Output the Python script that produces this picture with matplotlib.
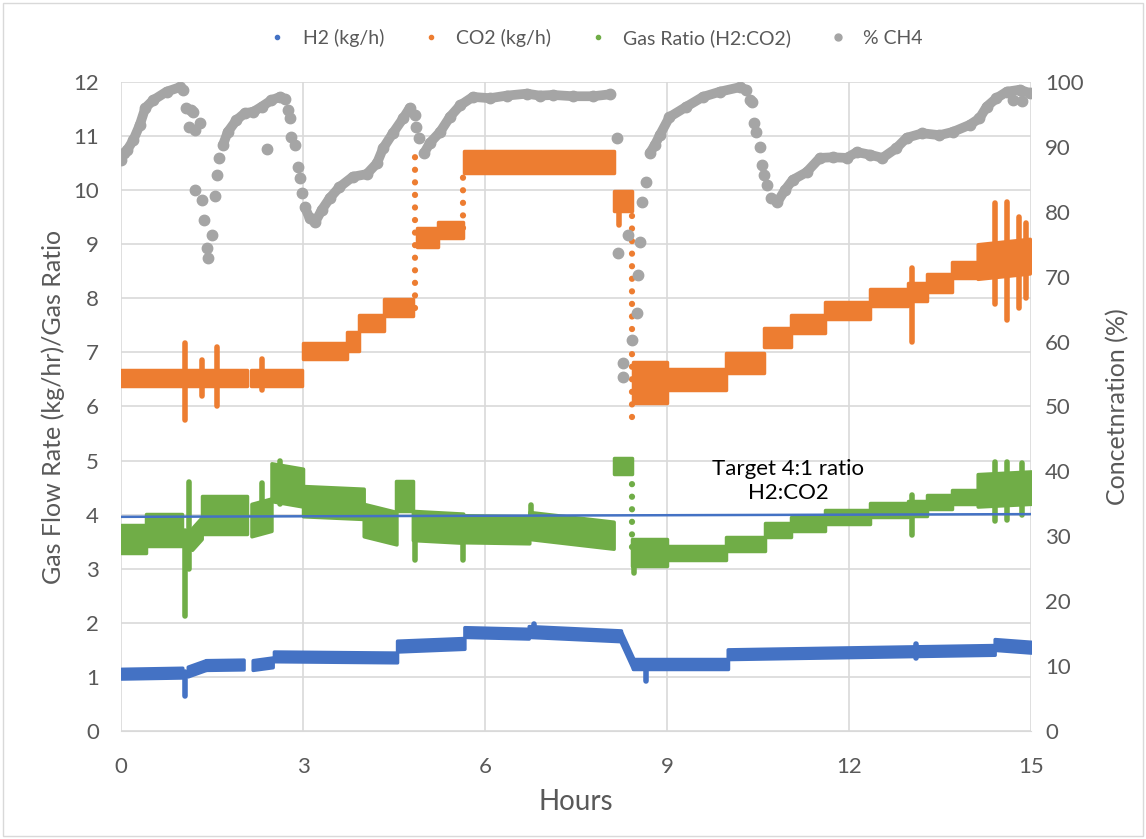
import numpy as np
import matplotlib
matplotlib.use("Agg")
import matplotlib.pyplot as plt
from matplotlib.lines import Line2D
from matplotlib.patches import Rectangle

plt.rcParams["font.family"] = ["Lato", "DejaVu Sans"]

BLUE = "#4472C4"
ORANGE = "#ED7D31"
GREEN = "#70AD47"
GRAY = "#A5A5A5"
TXT = "#595959"

# segments: (t_start, t_end, value_start, value_end, half band width)
h2_segments = [
    (0.0, 1.01, 1.06, 1.08, 0.09), (1.10, 1.40, 1.10, 1.22, 0.09),
    (1.40, 2.02, 1.22, 1.23, 0.09), (2.17, 2.50, 1.22, 1.27, 0.09),
    (2.52, 4.55, 1.38, 1.36, 0.09), (4.55, 5.66, 1.57, 1.62, 0.10),
    (5.66, 6.72, 1.83, 1.80, 0.09), (6.72, 8.24, 1.84, 1.76, 0.10),
    (8.24, 8.44, 1.74, 1.25, 0.10), (8.44, 10.0, 1.24, 1.24, 0.10),
    (10.0, 14.4, 1.42, 1.50, 0.09), (14.4, 15.0, 1.60, 1.55, 0.10),
]
h2_spikes = [(1.06, 0.65, 1.10), (8.65, 0.92, 1.25), (6.80, 1.80, 1.97), (13.1, 1.35, 1.60)]

co2_segments = [
    (0.0, 2.07, 6.52, 6.52, 0.15), (2.15, 2.98, 6.52, 6.52, 0.15),
    (3.0, 3.72, 7.02, 7.02, 0.15), (3.72, 3.92, 7.20, 7.20, 0.17),
    (3.92, 4.33, 7.55, 7.55, 0.15), (4.33, 4.81, 7.83, 7.83, 0.15),
    (4.88, 5.22, 9.12, 9.12, 0.18), (5.22, 5.63, 9.27, 9.27, 0.15),
    (5.65, 8.12, 10.52, 10.52, 0.20), (8.12, 8.42, 9.80, 9.80, 0.18),
    (8.44, 9.0, 6.45, 6.45, 0.38), (9.0, 9.98, 6.50, 6.50, 0.19),
    (9.98, 10.60, 6.80, 6.80, 0.18), (10.60, 11.05, 7.28, 7.28, 0.18),
    (11.05, 11.60, 7.53, 7.53, 0.17), (11.60, 12.34, 7.77, 7.77, 0.16),
    (12.34, 12.97, 8.02, 8.02, 0.16), (12.97, 13.28, 8.12, 8.12, 0.17),
    (13.28, 13.69, 8.28, 8.28, 0.17), (13.69, 14.12, 8.52, 8.52, 0.15),
    (14.12, 14.98, 8.68, 8.78, 0.32),
]
co2_spikes = [(1.05, 5.75, 7.17), (1.33, 6.20, 6.86), (1.58, 6.00, 7.10), (2.32, 6.30, 6.88),
              (8.20, 9.36, 9.80), (13.03, 7.20, 8.56), (14.40, 7.90, 9.76), (14.60, 7.60, 9.78),
              (14.80, 7.82, 9.50), (14.92, 8.00, 9.40)]
co2_jumps = [(4.84, 7.83, 10.80), (5.63, 9.30, 10.45), (8.42, 5.80, 9.60)]

ratio_segments = [
    (0.0, 0.42, 3.55, 3.55, 0.25), (0.42, 1.0, 3.72, 3.72, 0.30),
    (1.17, 1.33, 3.55, 3.75, 0.20), (1.33, 2.07, 4.00, 4.00, 0.35),
    (2.15, 2.48, 3.90, 4.00, 0.30), (2.48, 3.0, 4.60, 4.50, 0.35),
    (3.0, 4.0, 4.25, 4.20, 0.28), (4.0, 4.54, 3.90, 3.75, 0.30),
    (4.54, 4.81, 4.35, 4.35, 0.28), (4.81, 5.64, 3.80, 3.75, 0.27),
    (5.64, 6.73, 3.74, 3.72, 0.25), (6.73, 8.12, 3.80, 3.62, 0.25),
    (8.12, 8.42, 4.90, 4.90, 0.15), (8.42, 9.0, 3.30, 3.30, 0.25),
    (9.0, 9.98, 3.30, 3.30, 0.13), (9.98, 10.61, 3.45, 3.45, 0.13),
    (10.61, 11.05, 3.71, 3.71, 0.13), (11.05, 11.60, 3.82, 3.82, 0.13),
    (11.60, 12.34, 3.95, 3.95, 0.13), (12.34, 12.97, 4.08, 4.08, 0.13),
    (12.97, 13.28, 4.12, 4.12, 0.14), (13.28, 13.69, 4.23, 4.23, 0.13),
    (13.69, 14.12, 4.33, 4.33, 0.13), (14.12, 15.0, 4.45, 4.50, 0.30),
]
ratio_spikes = [(1.05, 2.12, 3.70), (1.12, 3.00, 4.60), (2.32, 3.70, 4.58), (2.62, 4.20, 5.00),
                (4.85, 3.17, 3.90), (5.64, 3.17, 3.80), (6.75, 3.60, 4.18), (8.45, 2.92, 3.40),
                (13.03, 3.63, 4.37), (14.40, 3.88, 4.98), (14.60, 3.90, 4.98), (14.85, 4.00, 4.95)]
ratio_jumps = [(8.42, 3.40, 4.70)]

target_t = [0, 15]
target_v = [3.96, 4.01]

# % CH4, dense runs (NaN separates runs) and isolated points
ch4_t = [0.0, 0.05, 0.1, 0.2, 0.31, 0.4, 0.53, 0.75, 0.97, 1.02, np.nan,
         1.68, 1.76, 1.9, 2.04, 2.18, 2.32, 2.48, 2.62, 2.7, np.nan,
         3.03, 3.11, 3.2, 3.31, 3.44, 3.6, 3.82, 4.05, 4.22, 4.32, 4.48, 4.65, 4.76, np.nan,
         5.0, 5.09, 5.26, 5.42, 5.59, 5.8, 6.08, 6.36, 6.69, 6.9, 7.12, 7.45, 7.78, 8.06, np.nan,
         8.72, 8.8, 8.88, 9.04, 9.32, 9.59, 9.87, 10.2, 10.3, np.nan,
         10.72, 10.82, 10.94, 11.07, 11.3, 11.52, 11.73, 11.96, 12.13, 12.34, 12.55, 12.78,
         12.95, 13.21, 13.49, 13.71, 13.99, 14.15, 14.27, 14.43, 14.6, 14.81, 14.98]
ch4_v = [88, 89, 89.5, 91, 93.4, 96, 97.2, 98.5, 99.2, 98.8, np.nan,
         90.3, 92.3, 94.1, 95.2, 95.4, 96.2, 97.2, 97.7, 97.4, np.nan,
         80.7, 79, 78.4, 80.3, 82.1, 83.8, 85.4, 85.8, 87.5, 89.8, 92.1, 94.4, 96, np.nan,
         89.1, 90.6, 92.3, 94.6, 96.4, 97.7, 97.5, 97.9, 98.2, 97.9, 98.0, 97.8, 97.8, 98.1, np.nan,
         89.1, 90.3, 91.8, 94.6, 96.2, 97.7, 98.5, 99.2, 98.8, np.nan,
         82.1, 81.5, 83.3, 84.9, 86.1, 88.3, 88.4, 88.3, 89.2, 88.8, 88.3, 89.8,
         91.4, 92.1, 91.8, 92.3, 93.4, 94.4, 96.2, 97.5, 98.5, 98.8, 98.3]
ch4_pts_t = [1.07, 1.15, 1.19, 1.12, 1.22, 1.3, 1.22, 1.33, 1.37, 1.41, 1.43, 1.5, 1.55, 1.58, 1.62,
             2.4, 2.75, 2.78, 2.8, 2.87, 2.92, 2.95, 2.98, 4.84, 4.86, 4.91,
             8.17, 8.19, 8.35, 8.55, 8.52, 8.5, 8.42, 8.27, 8.27, 8.58, 8.66,
             10.36, 10.4, 10.44, 10.47, 10.53, 10.57, 10.59, 10.64, 14.7, 14.85]
ch4_pts_v = [96, 95.7, 95.4, 93, 92.6, 93.7, 83.4, 81.8, 78.7, 74.4, 72.9, 76.4, 82.4, 85.7, 88.3,
             89.7, 95.7, 94.4, 91.5, 90.3, 86.9, 85.2, 82.9, 94.9, 93.1, 91.4,
             91.4, 73.6, 76.4, 75.3, 70.3, 64.4, 60.2, 56.7, 54.5, 81.5, 84.6,
             97.2, 96.9, 93.7, 92.3, 90, 87.2, 85.7, 84.1, 97.2, 97.0]


def draw_band(ax, segs, spikes, jumps, color):
    for t0, t1, v0, v1, s in segs:
        ax.fill_between([t0, t1], [v0 - s, v1 - s], [v0 + s, v1 + s],
                        color=color, lw=2.5, edgecolor=color, joinstyle="round", zorder=3)
    for t, lo, hi in spikes:
        ax.plot([t, t], [lo, hi], color=color, lw=4, solid_capstyle="round", zorder=3)
    for t, lo, hi in jumps:
        ax.plot([t, t], [lo, hi], color=color, lw=4.5, linestyle=(0, (0.01, 2.0)),
                dash_capstyle="round", zorder=3)


fig = plt.figure(figsize=(11.46, 8.39), dpi=100)
ax = fig.add_axes([0.1056, 0.1287, 0.7941, 0.7736])
ax2 = ax.twinx()

draw_band(ax, h2_segments, h2_spikes, [], BLUE)
draw_band(ax, co2_segments, co2_spikes, co2_jumps, ORANGE)
draw_band(ax, ratio_segments, ratio_spikes, ratio_jumps, GREEN)
ax.plot(target_t, target_v, color=BLUE, lw=1.8, zorder=4)
ax.text(11.0, 4.62, "Target 4:1 ratio\nH2:CO2", ha="center", va="center",
        fontsize=16, color="black", linespacing=1.25, zorder=5)

ax2.plot(ch4_t, ch4_v, color=GRAY, lw=7, marker="o", ms=7.5, solid_capstyle="round", zorder=3)
ax2.plot(ch4_pts_t, ch4_pts_v, "o", color=GRAY, ms=7.5, zorder=3)

ax.set_xlim(0, 15)
ax.set_ylim(0, 12)
ax2.set_ylim(0, 100)
ax.set_xticks(range(0, 16, 3))
ax.set_yticks(range(0, 13))
ax2.set_yticks(range(0, 101, 10))
ax.grid(True, color="#D9D9D9", lw=1.2, zorder=0)
ax.set_axisbelow(True)
for a in (ax, ax2):
    for sp in a.spines.values():
        sp.set_visible(False)
    a.tick_params(length=0, labelsize=16, labelcolor=TXT, pad=10)
ax.tick_params(axis="x", pad=19)
ax.tick_params(axis="y", pad=16)
ax.spines["bottom"].set_visible(True)
ax.spines["bottom"].set_color("#D9D9D9")

ax.set_xlabel("Hours", fontsize=20, color=TXT, labelpad=8)
ax.set_ylabel("Gas Flow Rate (kg/hr)/Gas Ratio", fontsize=18, color=TXT, labelpad=6)
ax2.set_ylabel("Concetnration (%)", fontsize=18, color=TXT, labelpad=16)

handles = [Line2D([], [], color=c, marker="o", ls="none", ms=ms)
           for c, ms in [(BLUE, 3), (ORANGE, 3), (GREEN, 3), (GRAY, 5)]]
fig.legend(handles, ["H2 (kg/h)", "CO2 (kg/h)", "Gas Ratio (H2:CO2)", "% CH4"],
           loc="center", bbox_to_anchor=(0.515, 0.955), ncol=4, frameon=False,
           fontsize=14, labelcolor=TXT, handletextpad=0.3, columnspacing=1.4)

fig.patches.append(Rectangle((0.003, 0.003), 0.994, 0.994, transform=fig.transFigure,
                             fill=False, edgecolor="#D9D9D9", lw=1))

fig.savefig("out.png", dpi=100)
